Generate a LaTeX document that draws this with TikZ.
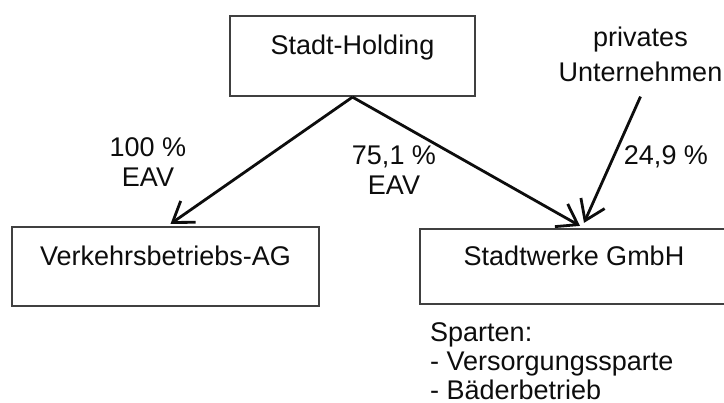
\documentclass[tikz,border=0pt]{standalone}
\usepackage{fontspec}
\setmainfont{Liberation Sans}
\usetikzlibrary{arrows.meta,calc}
\begin{document}
\begin{tikzpicture}[x=1pt,y=1pt,
  every node/.style={font=\fontsize{27}{30}\selectfont, text=black!95},
  orgbox/.style={draw=black!75, line width=2.2pt, rectangle, inner sep=0pt,
    text height=20pt, text depth=22pt},
  lbl/.style={inner sep=0pt, align=center},
  own/.style={line width=2.8pt, draw=black!95,
    -{Straight Barb[length=19pt,width=26pt,line width=2.8pt]}}
]
\useasboundingbox (0,0) rectangle (724,403);
\fill[white] (0,0) rectangle (724,403);
\begin{scope}
\clip (0,0) rectangle (724,403);
\node[orgbox, minimum width=245pt, minimum height=80pt] (SH) at (352.5,347) {Stadt-Holding};
\node[orgbox, minimum width=307pt, minimum height=79pt] (VA) at (165.5,136.5) {Verkehrsbetriebs-AG};
\node[orgbox, minimum width=308pt, minimum height=75pt] (SW) at (574,136.5) {Stadtwerke GmbH};
\end{scope}
\node[lbl] (PU) at (640.5,349) {privates\\[5pt]Unternehmen};
\node[lbl] (L1) at (148,241) {100 \%\\EAV};
\node[lbl] (L2) at (394,233) {75,1 \%\\EAV};
\node[lbl] (L3) at (666,246) {24,9 \%};
\node[lbl, align=left, anchor=north west, font=\fontsize{27}{29}\selectfont] (SP) at (430,81)
  {Sparten:\\- Versorgungssparte\\- Bäderbetrieb};
\draw[own] (SH.south) -- ([xshift=5pt,yshift=2pt]VA.north);
\draw[own] (SH.south) -- ([xshift=6pt,yshift=2pt]SW.north);
\coordinate (PUs) at ([yshift=-15pt]PU.south);
\draw[own] (PUs) -- ([xshift=10pt,yshift=5pt]SW.north);
\end{tikzpicture}
\end{document}
